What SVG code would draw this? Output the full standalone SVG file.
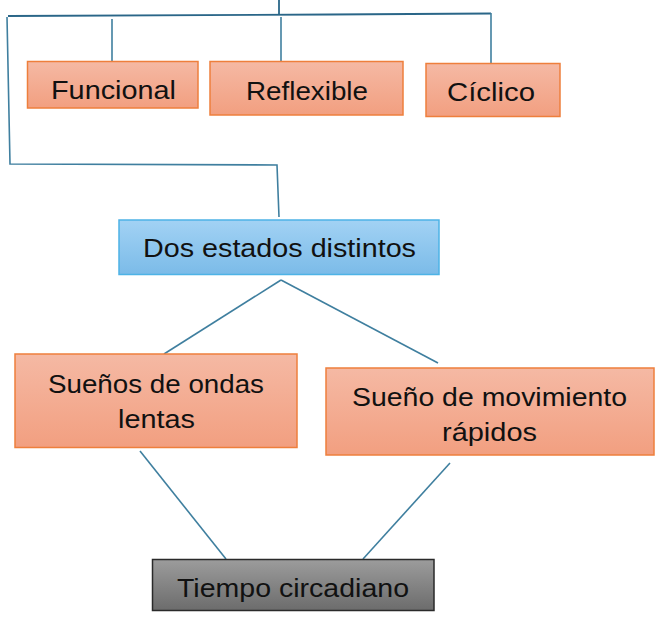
<svg xmlns="http://www.w3.org/2000/svg" width="661" height="621" viewBox="0 0 661 621">
<defs>
<linearGradient id="gO" x1="0" y1="0" x2="0" y2="1"><stop offset="0" stop-color="#f5b9a4"/><stop offset="1" stop-color="#f29f80"/></linearGradient>
<linearGradient id="gB" x1="0" y1="0" x2="0" y2="1"><stop offset="0" stop-color="#a2d2f4"/><stop offset="1" stop-color="#7bbbe8"/></linearGradient>
<linearGradient id="gG" x1="0" y1="0" x2="0" y2="1"><stop offset="0" stop-color="#9c9c9c"/><stop offset="1" stop-color="#6c6c6c"/></linearGradient>
<style>
.o{fill:url(#gO);stroke:#ee7f3c;stroke-width:1.5}
.b{fill:url(#gB);stroke:#4db3e6;stroke-width:1.5}
.g{fill:url(#gG);stroke:#2a2a2a;stroke-width:1.5}
.t{font-family:"Liberation Sans",Arial,sans-serif;font-size:26px;fill:#111;text-anchor:middle}
.c{fill:none;stroke:#3f7f9f;stroke-width:1.6}
.d{fill:none;stroke:#2a6688;stroke-width:1.8}
</style>
</defs>
<g id="connectors">
<path class="d" d="M8 16 L330 14.5 L491 13.5"/>
<path class="d" d="M279 0 L279 15"/>
<path class="c" d="M7 17 L10 164 L277 165 L279 217"/>
<path class="c" d="M112 19 L112 61"/>
<path class="c" d="M281 17 L281 61"/>
<path class="c" d="M491 13 L491 63"/>
<path class="c" d="M281 280 L164 354"/>
<path class="c" d="M281 280 L438 363"/>
<path class="c" d="M140 451 L226 559"/>
<path class="c" d="M450 463 L363 559"/>
</g>
<g id="funcional">
<rect class="o" x="27.5" y="61.5" width="170.5" height="46.5"/>
<text class="t" x="113.5" y="99" textLength="125" lengthAdjust="spacingAndGlyphs">Funcional</text>
</g>
<g id="reflexible">
<rect class="o" x="210" y="61.5" width="193" height="53.5"/>
<text class="t" x="307" y="100" textLength="122" lengthAdjust="spacingAndGlyphs">Reflexible</text>
</g>
<g id="ciclico">
<rect class="o" x="426" y="63.5" width="134" height="53"/>
<text class="t" x="491" y="101" textLength="88" lengthAdjust="spacingAndGlyphs">Cíclico</text>
</g>
<g id="dos-estados">
<rect class="b" x="119" y="220" width="320" height="54.5"/>
<text class="t" x="279.5" y="257" textLength="273" lengthAdjust="spacingAndGlyphs">Dos estados distintos</text>
</g>
<g id="ondas-lentas">
<rect class="o" x="15" y="354" width="282" height="93.5"/>
<text class="t" x="156" y="393" textLength="216" lengthAdjust="spacingAndGlyphs">Sueños de ondas</text>
<text class="t" x="156.5" y="428" textLength="77" lengthAdjust="spacingAndGlyphs">lentas</text>
</g>
<g id="movimiento-rapidos">
<rect class="o" x="326" y="368" width="328" height="87"/>
<text class="t" x="489.5" y="406" textLength="275" lengthAdjust="spacingAndGlyphs">Sueño de movimiento</text>
<text class="t" x="489.5" y="441" textLength="95" lengthAdjust="spacingAndGlyphs">rápidos</text>
</g>
<g id="tiempo-circadiano">
<rect class="g" x="152.5" y="559.5" width="281.5" height="51"/>
<text class="t" x="293" y="597" textLength="232" lengthAdjust="spacingAndGlyphs">Tiempo circadiano</text>
</g>
</svg>
